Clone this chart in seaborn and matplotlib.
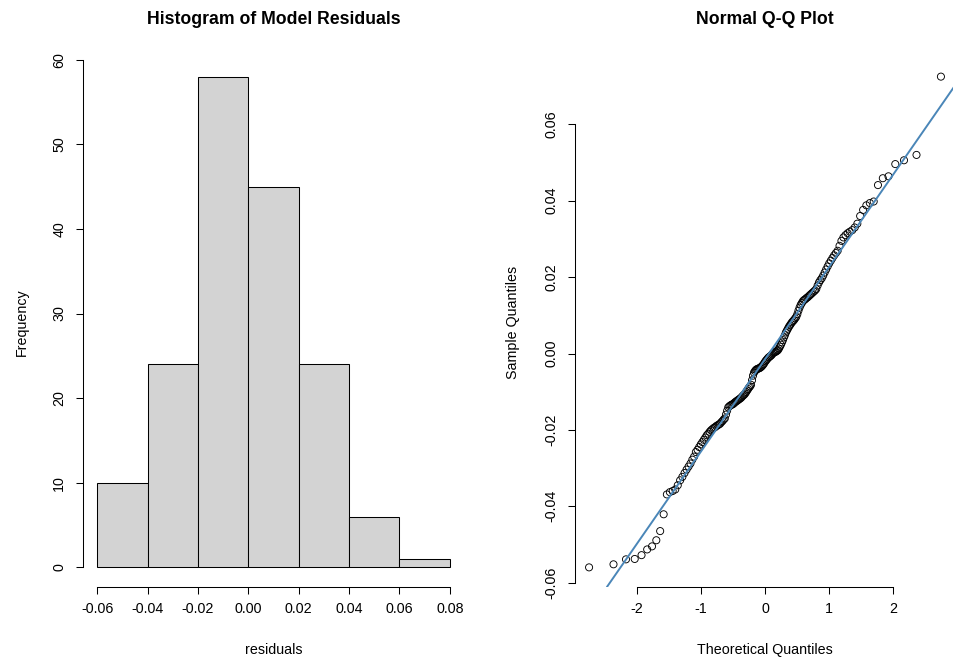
import numpy as np
import pandas as pd
import matplotlib
matplotlib.use("Agg")
import matplotlib.pyplot as plt
import seaborn as sns
from statistics import NormalDist

# ---- data (sorted model residuals) ----
residuals = [
    -0.0560, -0.0552, -0.0539, -0.0538, -0.0528, -0.0513, -0.0505, -0.0489, -0.0465, -0.0421,
    -0.0369, -0.0363, -0.0360, -0.0356, -0.0345, -0.0332, -0.0323, -0.0313, -0.0304, -0.0296,
    -0.0288, -0.0278, -0.0270, -0.0258, -0.0252, -0.0245, -0.0238, -0.0232, -0.0226, -0.0220,
    -0.0214, -0.0210, -0.0205, -0.0201, -0.0198, -0.0195, -0.0193, -0.0190, -0.0188, -0.0186,
    -0.0184, -0.0180, -0.0177, -0.0173, -0.0170, -0.0160, -0.0150, -0.0141, -0.0138, -0.0136,
    -0.0134, -0.0133, -0.0131, -0.0128, -0.0126, -0.0124, -0.0122, -0.0120, -0.0118, -0.0116,
    -0.0113, -0.0110, -0.0108, -0.0105, -0.0101, -0.0097, -0.0093, -0.0089, -0.0086, -0.0082,
    -0.0070, -0.0058, -0.0050, -0.0046, -0.0043, -0.0041, -0.0040, -0.0039, -0.0038, -0.0036,
    -0.0034, -0.0031, -0.0028, -0.0024, -0.0020, -0.0017, -0.0014, -0.0011, -0.0009, -0.0007,
    -0.0005, -0.0002, 0.0001, 0.0003, 0.0004, 0.0005, 0.0007, 0.0009, 0.0013, 0.0018,
    0.0023, 0.0029, 0.0035, 0.0042, 0.0048, 0.0055, 0.0060, 0.0065, 0.0070, 0.0074,
    0.0078, 0.0082, 0.0085, 0.0088, 0.0092, 0.0096, 0.0103, 0.0112, 0.0120, 0.0127,
    0.0132, 0.0137, 0.0140, 0.0142, 0.0145, 0.0147, 0.0150, 0.0153, 0.0156, 0.0159,
    0.0162, 0.0165, 0.0169, 0.0178, 0.0186, 0.0192, 0.0197, 0.0204, 0.0212, 0.0220,
    0.0228, 0.0236, 0.0243, 0.0250, 0.0257, 0.0263, 0.0269, 0.0282, 0.0295, 0.0304,
    0.0310, 0.0315, 0.0319, 0.0323, 0.0330, 0.0340, 0.0360, 0.0376, 0.0388, 0.0394,
    0.0398, 0.0441, 0.0459, 0.0464, 0.0496, 0.0506, 0.0520, 0.0725,
]
bin_edges = [-0.06, -0.04, -0.02, 0.00, 0.02, 0.04, 0.06, 0.08]
hist_xticks = [-0.06, -0.04, -0.02, 0.00, 0.02, 0.04, 0.06, 0.08]
hist_xticklabels = ["-0.06", "-0.04", "-0.02", "0.00", "0.02", "0.04", "0.06", "0.08"]
hist_yticks = [0, 10, 20, 30, 40, 50, 60]
qq_xticks = [-2, -1, 0, 1, 2]
qq_yticks = [-0.06, -0.04, -0.02, 0.00, 0.02, 0.04, 0.06]
qq_yticklabels = ["-0.06", "-0.04", "-0.02", "0.00", "0.02", "0.04", "0.06"]

# ---- theoretical quantiles (R ppoints) ----
res = np.sort(np.array(residuals))
n = len(res)
nd = NormalDist()
theo = np.array([nd.inv_cdf((i - 0.5) / n) for i in range(1, n + 1)])
df = pd.DataFrame({"theoretical": theo, "sample": res})

# qqline through quartiles
q1, q3 = np.quantile(res, [0.25, 0.75])
z1, z3 = nd.inv_cdf(0.25), nd.inv_cdf(0.75)

# ---- style ----
sns.set_style("ticks")
plt.rcParams["font.family"] = ["Liberation Sans", "DejaVu Sans"]
plt.rcParams["axes.linewidth"] = 0.75
plt.rcParams["axes.edgecolor"] = "black"
plt.rcParams["axes.labelcolor"] = "black"
plt.rcParams["text.color"] = "black"
plt.rcParams["xtick.color"] = "black"
plt.rcParams["ytick.color"] = "black"

fig = plt.figure(figsize=(9.54, 6.59), dpi=100)
H = 659.0
W = 954.0
bottom = (H - 587) / H
height = 530 / H
ax1 = fig.add_axes([83 / W, bottom, 381 / W, height])
ax2 = fig.add_axes([575 / W, bottom, 380 / W, height])

tick_fs = 10.3
lab_fs = 10.3
title_fs = 12.7

# ---- histogram ----
sns.histplot(x=res, bins=bin_edges, ax=ax1, color="#D3D3D3", edgecolor="black",
             linewidth=0.75, alpha=1.0)
ax1.use_sticky_edges = False
ax1.margins(x=0.04, y=0.04)
ax1.set_xticks(hist_xticks)
ax1.set_xticklabels(hist_xticklabels)
ax1.set_yticks(hist_yticks)
ax1.set_yticklabels([str(v) for v in hist_yticks])
ax1.spines["top"].set_visible(False)
ax1.spines["right"].set_visible(False)
ax1.spines["left"].set_bounds(0, 60)
ax1.spines["bottom"].set_bounds(-0.06, 0.08)
ax1.set_xlabel("residuals", fontsize=lab_fs)
ax1.set_ylabel("Frequency", fontsize=lab_fs)
ax1.set_title("Histogram of Model Residuals", fontsize=title_fs, fontweight="bold",
              color="black", pad=0, y=1 + 37 / 530, va="center")

# ---- Q-Q plot ----
sns.scatterplot(data=df, x="theoretical", y="sample", ax=ax2, marker="o",
                facecolors="none", edgecolor="black", linewidth=0.65, s=26)
ax2.margins(x=0.04, y=0.04)
ax2.axline((z1, q1), (z3, q3), color="#4a86b8", linewidth=1.4, zorder=1)
ax2.set_xticks(qq_xticks)
ax2.set_xticklabels([str(v) for v in qq_xticks])
ax2.set_yticks(qq_yticks)
ax2.set_yticklabels(qq_yticklabels)
ax2.spines["top"].set_visible(False)
ax2.spines["right"].set_visible(False)
ax2.spines["left"].set_bounds(-0.06, 0.06)
ax2.spines["bottom"].set_bounds(-2, 2)
ax2.set_xlabel("Theoretical Quantiles", fontsize=lab_fs)
ax2.set_ylabel("Sample Quantiles", fontsize=lab_fs)
ax2.set_title("Normal Q-Q Plot", fontsize=title_fs, fontweight="bold",
              color="black", pad=0, y=1 + 37 / 530, va="center")

for ax, ylab_x in ((ax1, (22 - 83) / 381), (ax2, (513 - 575) / 380)):
    ax.tick_params(axis="both", which="major", length=5, width=0.75, color="black",
                   labelsize=tick_fs, labelcolor="black")
    ax.tick_params(axis="x", pad=5.5)
    ax.tick_params(axis="y", pad=7)
    for lbl in ax.get_yticklabels():
        lbl.set_rotation(90)
        lbl.set_va("center")
    ax.xaxis.label.set_va("center")
    ax.yaxis.label.set_va("center")
    ax.xaxis.set_label_coords(0.5, -(650 - 587) / 530)
    ax.yaxis.set_label_coords(ylab_x, 0.5)

fig.savefig("out.png", dpi=100, facecolor="white")
